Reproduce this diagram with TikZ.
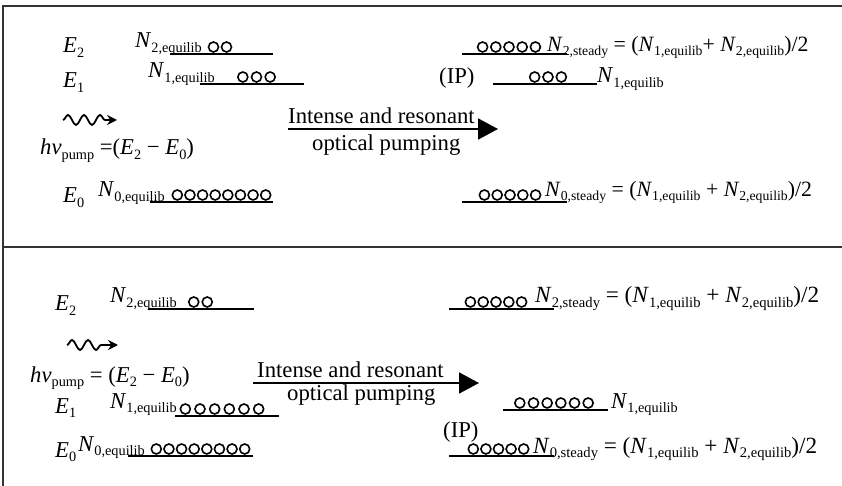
\documentclass[tikz,border=0pt]{standalone}
\usepackage{fontspec}
\setmainfont{Liberation Serif}
\usetikzlibrary{arrows.meta,decorations.pathmorphing}
\newlength\sblen
\newcommand{\sbs}[1]{\setlength\sblen{0.63em}\raisebox{-0.18em}{\fontsize{\the\sblen}{\the\sblen}\selectfont #1}}
\newcommand{\Nv}[1]{\textit{N}\sbs{#1}}
\newcommand{\Ev}[1]{\textit{E}\sbs{#1}}
\newcommand{\circrow}[4]{\foreach \k in {1,...,#4}{\draw[dotc] ({#1+(#2-#1)*(\k-0.5)/#4},#3) circle (5bp);}}
\begin{document}
\begin{tikzpicture}[x=1bp,y=-1bp,
 txt/.style={anchor=base west,inner sep=0pt,font=\fontsize{22.7bp}{27bp}\selectfont},
 txtsm/.style={txt,font=\fontsize{21.8bp}{26bp}\selectfont},
 txtbg/.style={txt,font=\fontsize{23.2bp}{27bp}\selectfont},
 level/.style={line width=2.4bp},
 dotc/.style={line width=1.6bp},
 frame/.style={line width=1.6bp,black!80},
 pump/.style={line width=1.8bp,-{Triangle[length=20bp,width=21bp]}},
 photon/.style={line width=1.8bp,-{Stealth[length=10bp,width=10bp]},decorate,decoration={snake,amplitude=5bp,segment length=16bp,post length=10bp}}]
\useasboundingbox (0,0) rectangle (842,486);
% frame
\draw[frame] (3,486) -- (3,6) -- (842,6);
\draw[frame] (3,247) -- (842,247);

% ---------- top panel ----------
\node[txt] (tE2) at (63,53) {\Ev{2}};
\node[txt] (tE1) at (63,88) {\Ev{1}};
\node[txt] (tE0) at (63,203) {\Ev{0}};
\node[txt] (tN2) at (135,48) {\Nv{2,equilib}};
\node[txt] (tN1) at (148,78) {\Nv{1,equilib}};
\node[txt] (tN0) at (98,197) {\Nv{0,equilib}};
\draw[level] (170,54) -- (273,54);
\draw[level] (200,84) -- (304,84);
\draw[level] (150,202) -- (273,202);
\circrow{207}{233}{47}{2}
\circrow{236}{277}{77}{3}
\circrow{171}{272}{195}{8}
\coordinate (tw1) at (63,120);
\coordinate (tw2) at (117,120);
\draw[photon] (tw1) -- (tw2);
\node[txt] (thv) at (40,155) {\textit{hν}\sbs{pump} =(\Ev{2} − \Ev{0})};
\coordinate (ta1) at (288,129);
\coordinate (ta2) at (498,129);
\draw[pump] (ta1) -- (ta2);
\node[txt] (tl1) at (288,124) {Intense and resonant};
\node[txt] (tl2) at (312,151) {optical pumping};
\node[txt] (tIP) at (439,84) {(IP)};
\draw[level] (462,54) -- (567,54);
\circrow{476}{542}{47}{5}
\node[txtsm] (tS2) at (547,52) {\Nv{2,steady} = (\Nv{1,equilib}+ \Nv{2,equilib})/2};
\draw[level] (493,84) -- (597,84);
\circrow{528}{568}{77}{3}
\node[txt] (tS1) at (597,83) {\Nv{1,equilib}};
\draw[level] (462,202) -- (567,202);
\circrow{478}{542}{195}{5}
\node[txtsm] (tS0) at (545,197) {\Nv{0,steady} = (\Nv{1,equilib} + \Nv{2,equilib})/2};

% ---------- bottom panel ----------
\node[txt] (bE2) at (55,311) {\Ev{2}};
\node[txt] (bE1) at (55,413) {\Ev{1}};
\node[txt] (bE0) at (55,457) {\Ev{0}};
\node[txt] (bN2) at (110,303) {\Nv{2,equilib}};
\node[txt] (bN1) at (110,408) {\Nv{1,equilib}};
\node[txt] (bN0) at (78,451) {\Nv{0,equilib}};
\draw[level] (148,309) -- (254,309);
\draw[level] (175,416) -- (279,416);
\draw[level] (128,456) -- (253,456);
\circrow{187}{214}{302}{2}
\circrow{178}{266}{409}{6}
\circrow{150}{251}{449}{8}
\coordinate (bw1) at (67,345);
\coordinate (bw2) at (118,345);
\draw[photon] (bw1) -- (bw2);
\node[txt] (bhv) at (30,382) {\textit{hν}\sbs{pump} = (\Ev{2} − \Ev{0})};
\coordinate (ba1) at (253,383);
\coordinate (ba2) at (479,383);
\draw[pump] (ba1) -- (ba2);
\node[txt] (bl1) at (257,377) {Intense and resonant};
\node[txt] (bl2) at (287,400) {optical pumping};
\node[txt] (bIP) at (443,437) {(IP)};
\draw[level] (449,309) -- (554,309);
\circrow{464}{528}{302}{5}
\node[txtbg] (bS2) at (535,303) {\Nv{2,steady} = (\Nv{1,equilib} + \Nv{2,equilib})/2};
\draw[level] (503,410) -- (608,410);
\circrow{513}{595}{403}{6}
\node[txt] (bS1) at (611,408) {\Nv{1,equilib}};
\draw[level] (449,456) -- (554,456);
\circrow{467}{530}{449}{5}
\node[txtbg] (bS0) at (533,453) {\Nv{0,steady} = (\Nv{1,equilib} + \Nv{2,equilib})/2};
\end{tikzpicture}
\end{document}
